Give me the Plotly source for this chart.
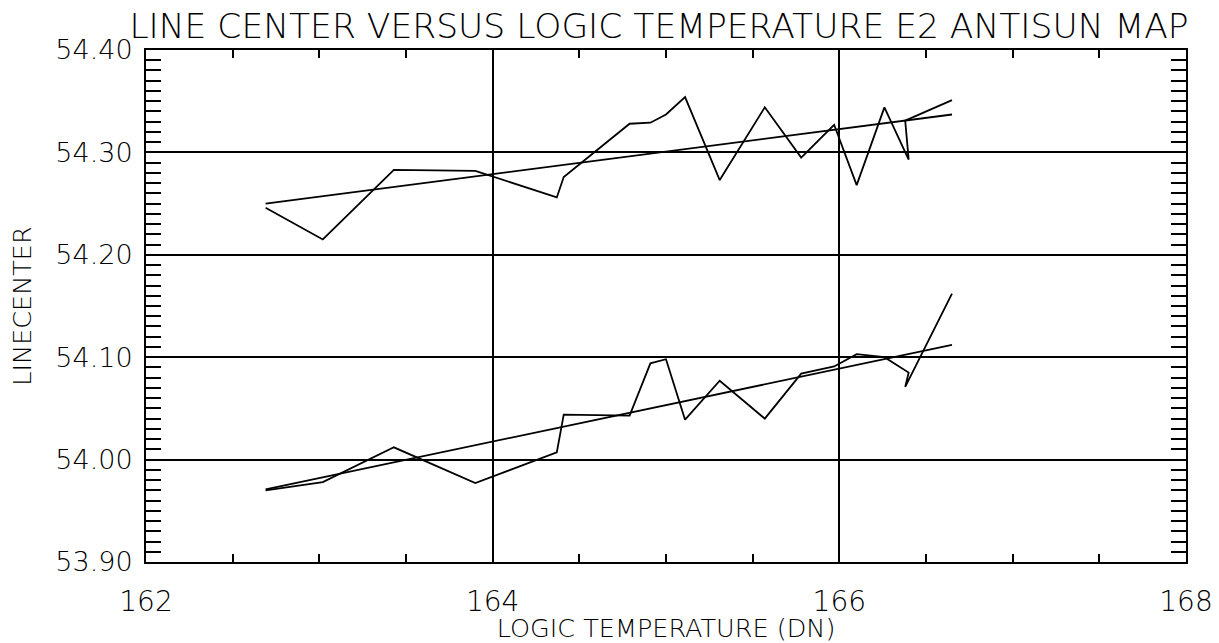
import plotly.graph_objects as go

# Shared logic temperatures (DN)
temperature = [162.69, 163.02, 163.43, 163.90, 164.37, 164.41, 164.79, 164.91, 165.00,
               165.11, 165.31, 165.57, 165.78, 165.97, 166.10, 166.26, 166.40, 166.38, 166.65]
# Upper series line center
upper_center = [54.246, 54.215, 54.283, 54.282, 54.256, 54.276, 54.328, 54.329, 54.337,
                54.354, 54.273, 54.344, 54.295, 54.327, 54.268, 54.344, 54.293, 54.331, 54.351]
# Lower series line center
lower_center = [53.970, 53.978, 54.012, 53.977, 54.007, 54.044, 54.043, 54.094, 54.098,
                54.039, 54.077, 54.040, 54.084, 54.091, 54.103, 54.100, 54.085, 54.071, 54.162]
# Linear fits (end points)
fit_x = [162.69, 166.65]
upper_fit = [54.250, 54.337]
lower_fit = [53.971, 54.112]

x_ticks = [162, 164, 166, 168]
y_ticks = [53.90, 54.00, 54.10, 54.20, 54.30, 54.40]

FONT = "DejaVu Sans"
line_style = dict(color="black", width=1.8)

fig = go.Figure()
fig.add_trace(go.Scatter(x=temperature, y=upper_center, mode="lines", line=line_style, showlegend=False))
fig.add_trace(go.Scatter(x=fit_x, y=upper_fit, mode="lines", line=line_style, showlegend=False))
fig.add_trace(go.Scatter(x=temperature, y=lower_center, mode="lines", line=line_style, showlegend=False))
fig.add_trace(go.Scatter(x=fit_x, y=lower_fit, mode="lines", line=line_style, showlegend=False))

fig.update_layout(
    width=1219, height=643,
    margin=dict(l=146, r=33, t=50, b=81, autoexpand=False),
    paper_bgcolor="white", plot_bgcolor="white",
    font=dict(family=FONT, color="black", weight=300),
    title=dict(text="LINE CENTER VERSUS LOGIC TEMPERATURE E2 ANTISUN MAP",
               x=659 / 1219, xanchor="center", xref="container",
               y=1 - 26 / 643, yanchor="middle", yref="container",
               font=dict(family=FONT, size=34.5, color="black", weight=300)),
)

fig.update_xaxes(
    range=[162, 168], tickvals=x_ticks, ticktext=[str(v) for v in x_ticks],
    showline=True, linecolor="black", linewidth=2, mirror="ticks",
    ticks="inside", ticklen=0, tickcolor="black", automargin=False,
    showgrid=True, gridcolor="black", gridwidth=1.5, zeroline=False,
    minor=dict(dtick=0.5, ticks="inside", ticklen=8, tickcolor="black", tickwidth=1.5, showgrid=False),
    tickfont=dict(family=FONT, size=28, color="black", weight=300),
    ticklabelstandoff=13,
    title=dict(text="LOGIC TEMPERATURE (DN)", font=dict(family=FONT, size=25.5, color="black", weight=300), standoff=10),
)
fig.update_yaxes(
    range=[53.90, 54.40], tickvals=y_ticks, ticktext=["%.2f" % v for v in y_ticks],
    showline=True, linecolor="black", linewidth=2, mirror="ticks",
    ticks="inside", ticklen=0, tickcolor="black", automargin=False,
    showgrid=True, gridcolor="black", gridwidth=1.5, zeroline=False,
    minor=dict(dtick=0.01, ticks="inside", ticklen=15, tickcolor="black", tickwidth=1.5, showgrid=False),
    tickfont=dict(family=FONT, size=27, color="black", weight=300),
    ticklabelstandoff=6,
    title=dict(text="LINECENTER", font=dict(family=FONT, size=25.5, color="black", weight=300), standoff=16),
)

fig.write_html("out.html")
